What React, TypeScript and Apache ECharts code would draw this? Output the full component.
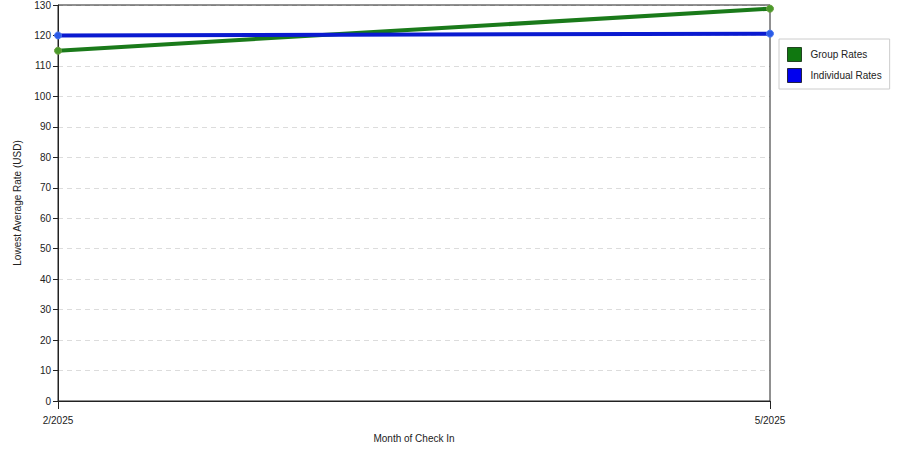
import React, { useEffect, useRef } from 'react'
import * as echarts from 'echarts'

const months = ['2/2025', '5/2025']
const groupRates = [115, 128.8]
const individualRates = [120, 120.6]

const FONT = 'Liberation Sans'

const App: React.FC = () => {
  const chartRef = useRef<HTMLDivElement>(null)

  useEffect(() => {
    if (!chartRef.current) return
    const chart = echarts.init(chartRef.current, undefined, { renderer: 'svg' })

    const option: any = {
      animation: false,
      backgroundColor: '#fff',
      textStyle: { fontFamily: FONT },
      grid: {
        left: 58,
        right: 130,
        top: 5,
        bottom: 49,
        outerBoundsMode: 'none',
        containLabel: false,
        show: true,
        borderColor: '#222',
        borderWidth: 1,
        backgroundColor: 'transparent',
        z: 2,
      },
      legend: {
        orient: 'vertical',
        left: 779,
        top: 39,
        padding: [8, 8, 6, 8],
        itemGap: 6,
        itemWidth: 14,
        itemHeight: 14,
        borderColor: '#ccc',
        borderWidth: 1,
        backgroundColor: '#fff',
        icon: 'rect',
        textStyle: { fontSize: 10, color: '#222', fontFamily: FONT, padding: [0, 0, 0, 4] },
        data: [
          { name: 'Group Rates', itemStyle: { color: '#107810', borderColor: '#224422', borderWidth: 1 } },
          { name: 'Individual Rates', itemStyle: { color: '#0000ee', borderColor: '#222244', borderWidth: 1 } },
        ],
      },
      xAxis: {
        type: 'category',
        data: months,
        boundaryGap: false,
        name: 'Month of Check In',
        nameLocation: 'middle',
        nameGap: 32,
        nameTextStyle: { fontSize: 10, color: '#222', fontFamily: FONT },
        axisLine: { lineStyle: { color: '#222' } },
        axisTick: { show: true, length: 8, alignWithLabel: true, lineStyle: { color: '#222' } },
        axisLabel: { fontSize: 10, color: '#222', margin: 14, fontFamily: FONT },
        splitLine: { show: false },
        z: 1,
      },
      yAxis: {
        type: 'value',
        min: 0,
        max: 130,
        interval: 10,
        name: 'Lowest Average Rate (USD)',
        nameLocation: 'middle',
        nameGap: 36,
        nameTextStyle: { fontSize: 10, color: '#222', fontFamily: FONT },
        axisLine: { show: true, lineStyle: { color: '#222' } },
        axisTick: { show: true, length: 5, lineStyle: { color: '#222' } },
        axisLabel: { fontSize: 10, color: '#222', margin: 7, fontFamily: FONT },
        splitLine: { show: true, lineStyle: { color: '#dcdcdc', type: [5, 4] } },
        z: 1,
      },
      series: [
        {
          name: 'Group Rates',
          type: 'line',
          data: groupRates,
          symbol: 'circle',
          symbolSize: 7,
          lineStyle: { color: '#1a7a1a', width: 4 },
          itemStyle: { color: '#4a9a2a', borderColor: '#6aa040', borderWidth: 1 },
          z: 3,
        },
        {
          name: 'Individual Rates',
          type: 'line',
          data: individualRates,
          symbol: 'circle',
          symbolSize: 7,
          lineStyle: { color: '#0a1ad0', width: 4 },
          itemStyle: { color: '#2a5ae8', borderColor: '#4a7af0', borderWidth: 1 },
          z: 4,
        },
      ],
    }

    chart.setOption(option)

    const handleResize = () => chart.resize()
    window.addEventListener('resize', handleResize)
    return () => {
      window.removeEventListener('resize', handleResize)
      chart.dispose()
    }
  }, [])

  return (
    <div
      ref={chartRef}
      style={{ position: 'fixed', left: 0, top: 0, width: 900, height: 450 }}
    />
  )
}

export default App
